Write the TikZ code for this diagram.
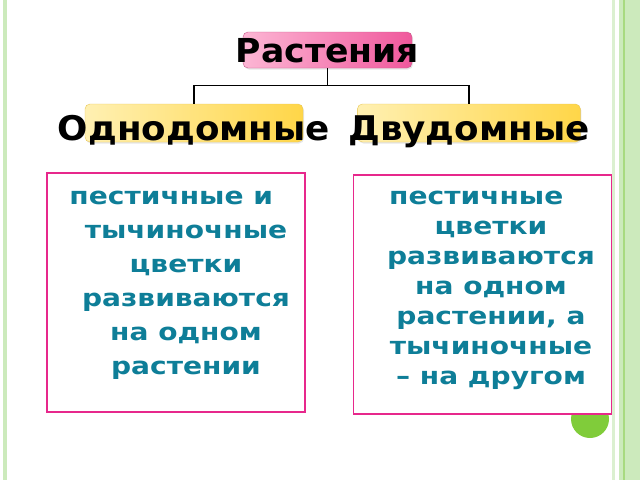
\documentclass[tikz,border=0pt]{standalone}
\usepackage{fontspec}
\setmainfont{DejaVu Sans}
\newfontfamily\headfont[FakeStretch=1.05]{DejaVu Sans}
\newfontfamily\notefont[FakeStretch=1.17]{DejaVu Sans}
\usepackage{xcolor}
\usepackage{tikz}
\usetikzlibrary{positioning, calc, shadows}
\definecolor{notecolor}{RGB}{14, 126, 152}
\definecolor{framecolor}{RGB}{231, 40, 140}
\definecolor{pinklight}{RGB}{252, 182, 212}
\definecolor{pinkdark}{RGB}{240, 88, 156}
\definecolor{yellowlight}{RGB}{255, 240, 178}
\definecolor{yellowdark}{RGB}{255, 214, 72}
\definecolor{sidegreen}{RGB}{204, 234, 188}
\definecolor{sidedark}{RGB}{168, 218, 128}
\definecolor{dotgreen}{RGB}{128, 204, 58}

\begin{document}
\begin{tikzpicture}[
    x=1pt, y=-1pt,
    head/.style={draw=pinkdark!80!black!90, rounded corners=5pt, minimum width=169pt, minimum height=36pt,
        left color=pinklight, right color=pinkdark,
        drop shadow={opacity=0.2, shadow xshift=1pt, shadow yshift=-1.5pt}},
    kind/.style={draw=yellowdark!90!black!90, rounded corners=5pt, minimum height=38pt,
        left color=yellowlight, right color=yellowdark,
        drop shadow={opacity=0.2, shadow xshift=1pt, shadow yshift=-1.5pt}},
    big/.style={font=\headfont\bfseries\fontsize{34pt}{40pt}\selectfont, inner sep=0pt, text height=25pt, text depth=0pt},
    panel/.style={draw=framecolor, line width=1.5pt, fill=white, minimum width=258pt, minimum height=239pt},
    note/.style={text=notecolor, align=center, inner sep=0pt},
    link/.style={line width=1.3pt}
]
    \useasboundingbox (0,0) rectangle (640,480);
    % slide border
    \fill[sidegreen] (3,0) rectangle (7,480);
    \fill[sidegreen!70!white] (612,0) rectangle (615,480);
    \fill[sidegreen] (619,0) rectangle (640,480);
    \fill[sidedark] (623,0) rectangle (625,480);
    \fill[dotgreen] (590,419) circle (19);

    \node[head, label={[big, font=\headfont\bfseries\fontsize{33pt}{40pt}\selectfont, text height=24pt]center:Растения}] (plants) at (327.5,50) {};
    \node[kind, minimum width=218pt, label={[big, yshift=-4.5pt]center:Однодомные}] (mono) at (194,123) {};
    \node[kind, minimum width=223pt, right=54pt of mono, label={[big, yshift=-4.5pt]center:Двудомные}] (dio) {};

    \draw[link] (plants.south) -- ++(0,17) coordinate (fork);
    \draw[link] (mono.north) |- (fork) -| (dio.north);

    \node[panel] (monobox) at (176,292.5) {};
    \node[panel, right=47pt of monobox, yshift=-2pt] (diobox) {};

    \node[note, anchor=north, font=\notefont\bfseries\fontsize{24pt}{34pt}\selectfont] (monotext) at (186,191)
        {пестичные и\hphantom{ и}\\тычиночные\\цветки\\развиваются\\на одном\\растении};
    \node[note, anchor=north, font=\notefont\bfseries\fontsize{24pt}{30pt}\selectfont] (diotext) at (491,191)
        {пестичные\hphantom{ и}\\цветки\\развиваются\\на одном\\растении, а\\тычиночные\\– на другом};
\end{tikzpicture}
\end{document}
